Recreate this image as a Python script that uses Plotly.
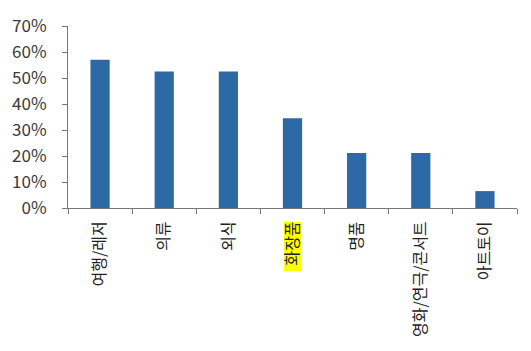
import plotly.graph_objects as go

categories = ["여행/레저", "의류", "외식", "화장품", "명품", "영화/연극/콘서트", "아트토이"]
values = [57, 52.5, 52.5, 34.5, 21.2, 21.2, 6.5]
y_ticks = [0, 10, 20, 30, 40, 50, 60, 70]
y_tick_labels = [f"{v}%" for v in y_ticks]
highlight = "화장품"

fig = go.Figure(go.Bar(x=categories, y=values, marker=dict(color="#2D6AA5", line=dict(width=0)),
                       width=0.3))

hi = categories.index(highlight)
fig.add_shape(type="rect", layer="below", xref="paper", yref="paper",
              xsizemode="pixel", ysizemode="pixel",
              xanchor=(hi + 0.5) / len(categories), yanchor=0,
              x0=-8.5, x1=8.5, y0=-14, y1=-63,
              fillcolor="#FFFF00", line=dict(width=0))

fig.update_layout(
    width=531, height=351,
    margin=dict(l=68, r=14, t=21, b=143),
    paper_bgcolor="white", plot_bgcolor="rgba(0,0,0,0)",
    showlegend=False,
    font=dict(family="Noto Sans CJK KR", size=13, color="#3a3a3a"),
)
fig.update_xaxes(
    type="category", showline=True, linecolor="#777777", linewidth=1,
    ticks="outside", tickson="boundaries", ticklen=5, tickcolor="#777777",
    tickangle=-90, tickfont=dict(size=16, color="#222222"), showgrid=False,
    ticklabelstandoff=6,
)
fig.update_yaxes(
    range=[0, 70], tickvals=y_ticks, ticktext=y_tick_labels,
    showline=True, linecolor="#777777", linewidth=1,
    ticks="outside", ticklen=5, tickcolor="#777777", showgrid=False, zeroline=False,
    tickfont=dict(size=17, color="#3a3a3a"), ticklabelstandoff=12,
)
fig.write_html("out.html")
